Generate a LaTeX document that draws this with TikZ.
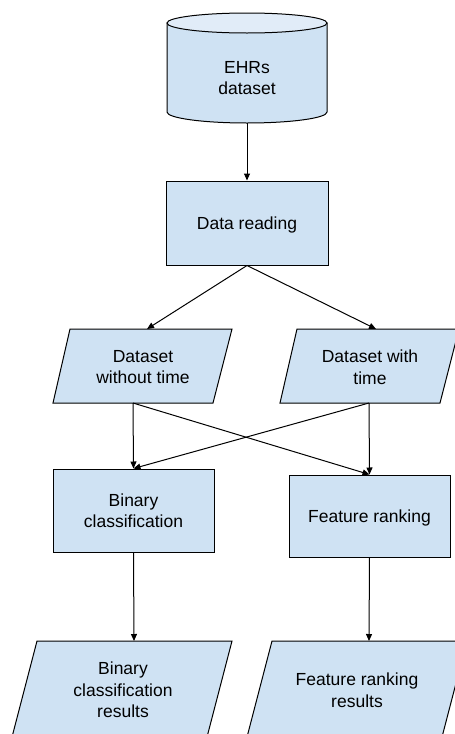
\documentclass[tikz,border=0pt]{standalone}
\usepackage{fontspec}
\setmainfont{Liberation Sans}
\usetikzlibrary{arrows.meta}
\definecolor{boxfill}{HTML}{CFE2F3}
\definecolor{capfill}{HTML}{E1ECF8}
\begin{document}
\begin{tikzpicture}[x=1pt,y=-1pt,
  lbl/.style={align=center,font=\fontsize{17.5}{21.5}\selectfont,inner sep=0pt},
  shapeline/.style={draw=black,line width=1pt,fill=boxfill},
  procbox/.style={shapeline,lbl,minimum width=161pt,minimum height=83pt},
  conn/.style={line width=1pt,-{Triangle[length=7pt,width=6pt]}}]
\useasboundingbox (0,0) rectangle (455,734);
\clip (0,0) rectangle (455,734);

% database cylinder
\path[shapeline] (167,23) -- (167,112)
  arc[start angle=180,end angle=360,x radius=80pt,y radius=11pt] -- (327,23) -- cycle;
\path[shapeline,fill=capfill] (247,23) ellipse [x radius=80pt,y radius=10pt];
\node[lbl] (db) at (247,78) {EHRs\\dataset};
\coordinate (dbbase) at (247,123);

% processing steps
\node[procbox,minimum width=162pt,minimum height=84pt,text depth=0pt] (read) at (247,223) {Data reading};
\node[procbox] (bin) at (133.5,510.5) {Binary\\classification};
\node[procbox,minimum height=82pt,text depth=0pt] (feat) at (369.5,516) {Feature ranking};

% input data sets
\path[shapeline] (70,329) -- (232,329) -- (213,403) -- (53,403) -- cycle;
\path[shapeline] (297,329) -- (459,329) -- (440,403) -- (280,403) -- cycle;
\node[lbl] (p1) at (143,367) {Dataset\\without time};
\node[lbl] (p2) at (370,367) {Dataset with\\time};
\coordinate (p1top) at (147,329);
\coordinate (p2top) at (376,329);
\coordinate (p1bot) at (133,403);
\coordinate (p2bot) at (369,403);

% outputs
\path[shapeline] (37,641) -- (232,641) -- (206.5,739) -- (11.5,739) -- cycle;
\path[shapeline] (272,641) -- (467,641) -- (441.5,739) -- (246.5,739) -- cycle;
\node[lbl] (r1) at (123,690) {Binary\\classification\\results};
\node[lbl] (r2) at (357,690) {Feature ranking\\results};
\coordinate (r1top) at (134,641);
\coordinate (r2top) at (369,641);

% connectors
\draw[conn] (dbbase) -- (read.north);
\draw[conn] (read.south) -- (p1top);
\draw[conn] (read.south) -- (p2top);
\draw[conn] (p1bot) -- (bin.north);
\draw[conn] (p1bot) -- (feat.north);
\draw[conn] (p2bot) -- (feat.north);
\draw[conn] (p2bot) -- (bin.north);
\draw[conn] (bin.south) -- (r1top);
\draw[conn] (feat.south) -- (r2top);
\end{tikzpicture}
\end{document}
